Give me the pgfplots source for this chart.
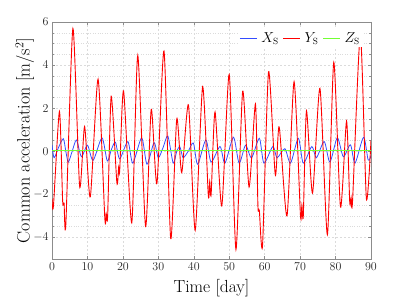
\documentclass[border=0pt]{standalone}
\usepackage{pgfplots}
\pgfplotsset{compat=1.18}
\definecolor{cblue}{rgb}{0.2,0.3,1}
\definecolor{cred}{rgb}{1,0,0}
\definecolor{cgreen}{rgb}{0.45,1,0.2}
\begin{document}
\begin{tikzpicture}
\path[use as bounding box] (-52pt,-40pt) rectangle (347pt,259pt);
\begin{axis}[
  at={(0,0)}, anchor=south west,
  scale only axis, width=319pt, height=237pt,
  xmin=0, xmax=90, ymin=-5, ymax=6,
  xtick={0,10,...,90}, ytick={-4,-2,0,2,4,6},
  minor y tick num=3,
  scaled y ticks=false,
  tick align=inside, tick pos=both,
  major tick length=3pt, minor tick length=1.5pt,
  axis line style={black!45},
  every tick/.style={black!45},
  grid=both,
  major grid style={black!14, dash pattern=on 2pt off 2pt, line width=0.4pt},
  minor grid style={black!14, dotted, line width=0.4pt},
  ticklabel style={font=\fontsize{11.5}{13}\selectfont, text=black!85},
  every axis y label/.style={at={(axis description cs:-0.085,0.5)},rotate=90,anchor=center},
  every axis x label/.style={at={(axis description cs:0.5,-0.125)},anchor=center},
  xlabel={\fontsize{17.5}{20}\selectfont Time [day]},
  ylabel={\fontsize{18}{20}\selectfont Common acceleration [m/s$^2$]},
  legend columns=3,
  legend style={at={(axis description cs:0.975,0.97)}, anchor=north east, draw=none, fill=white,
    font=\fontsize{13.5}{15}\selectfont, column sep=2pt, inner sep=1pt},
]
\addplot[cblue, line width=0.8pt, smooth, tension=0.45] coordinates {
(0,0.3) (0.6,-0.3) (1.9,0.2) (3.2,0.58) (3.9,0.0) (4.6,-0.5) (5.7,0.0) (6.9,0.52) (8.3,-0.25) (10.0,0.28)
(11.6,-0.42) (14.1,0.62) (15.6,-0.45) (16.8,0.1) (17.9,0.42) (19.1,-0.35) (21.4,0.45) (22.8,-0.55)
(25.3,0.62) (26.8,-0.6) (28.8,0.4) (30.0,-0.3) (31.4,0.2) (32.7,0.7) (34.2,-0.55) (35.2,0.0) (36.1,0.2)
(37.0,-0.3) (38.6,0.05) (39.9,0.38) (41.1,-0.6) (43.4,0.52) (44.9,-0.5) (47.4,0.22) (48.8,-0.55)
(51.2,0.65) (52.8,-0.55) (54.6,0.28) (56.3,-0.3) (58.5,0.6) (59.8,-0.55) (62.3,0.22) (63.5,-0.3)
(65.7,0.12) (67.3,-0.55) (69.5,0.6) (70.9,-0.55) (73.3,0.22) (74.6,-0.3) (76.8,0.45) (78.4,-0.5)
(80.5,0.62) (82.2,-0.25) (84.2,0.3) (85.5,-0.55) (87.9,0.65) (89.2,-0.4) (90,-0.2)
};
\addlegendentry{$X_{\mathrm{S}}$}
\addplot[cred, line width=0.9pt, smooth, tension=0.4] coordinates {
(0,-2.2) (0.4,-2.55) (2.1,1.85) (3.0,-2.3) (3.4,-2.4) (3.9,-3.4) (5.9,5.7) (7.8,-1.63) (9.2,1.15)
(10.8,-2.12) (13.0,3.35) (14.9,-3.1) (15.3,-2.9) (15.7,-3.0) (16.7,2.55) (18.3,-1.45) (18.8,-0.75)
(19.1,-0.9) (20.2,2.8) (22.5,-3.32) (24.2,4.45) (26.4,-3.49) (28.0,1.95) (29.6,-1.5) (31.6,4.65)
(33.5,-4.06) (35.2,1.5) (36.6,-0.99) (38.5,2.15) (40.4,-3.67) (42.5,3.0) (44.1,-2.05) (44.5,-1.4)
(44.9,-2.0) (46.0,1.83) (47.9,-2.54) (50.0,3.57) (51.9,-4.56) (53.8,2.79) (55.6,-1.66) (57.4,2.2)
(58.1,-2.55) (58.5,-2.75) (59.4,-4.37) (61.1,3.69) (63.0,-1.1) (64.1,1.13) (66.3,-3.0) (68.3,3.23)
(70.1,-2.97) (70.5,-2.5) (70.9,-3.0) (71.8,1.88) (73.5,-1.94) (75.6,2.92) (77.7,-3.87) (79.5,4.13)
(81.4,-2.59) (83.1,1.40) (84.0,-2.35) (84.4,-2.15) (84.8,-2.3) (87.0,5.43) (88.7,-2.2) (90,0.5)
};
\addlegendentry{$Y_{\mathrm{S}}$}
\addplot[cgreen, line width=0.9pt] coordinates {(0,0.05) (90,0.05)};
\addlegendentry{$Z_{\mathrm{S}}$}
\node[anchor=south west, font=\fontsize{11}{13}\selectfont, text=black!85, inner sep=1pt] at (rel axis cs:0,1) {$\times10^{-13}$};
\end{axis}
\end{tikzpicture}
\end{document}
